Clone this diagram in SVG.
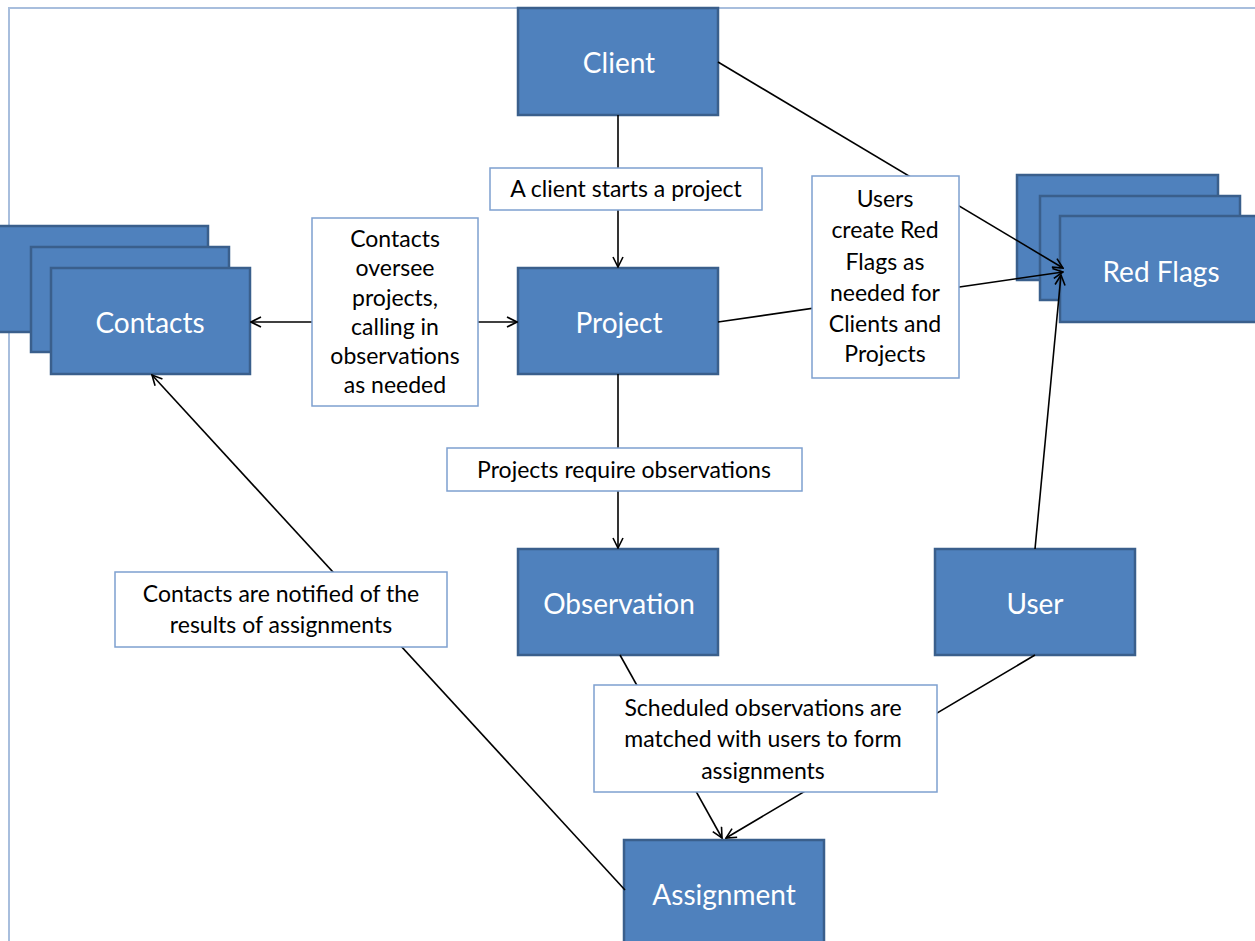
<svg xmlns="http://www.w3.org/2000/svg" width="1255" height="941" viewBox="0 0 1255 941">
<style>
.node{fill:#4F81BD;stroke:#3A5F8C;stroke-width:2.5}
.nt{font-family:Lato,"Open Sans",sans-serif;font-size:28px;fill:#FFFFFF;text-anchor:middle;dominant-baseline:central}
.lbl{fill:#FFFFFF;stroke:#7EA0CF;stroke-width:1.5}
.lt{font-family:Lato,"Open Sans",sans-serif;font-size:23px;fill:#000000;text-anchor:middle;dominant-baseline:central}
.con{stroke:#000000;stroke-width:1.6;fill:none}
.arr{stroke:#000000;stroke-width:1.6;fill:none;marker-end:url(#ah)}
</style>
<defs>
<marker id="ah" viewBox="0 0 12 12" refX="11" refY="6" markerWidth="12" markerHeight="12" markerUnits="userSpaceOnUse" orient="auto">
<path d="M1,1 L11,6 L1,11" fill="none" stroke="#000000" stroke-width="1.6"/>
</marker>
</defs>
<rect width="1255" height="941" fill="#FFFFFF"/>
<path d="M9,941 L9,8 L1255,8" fill="none" stroke="#A8BEDD" stroke-width="2"/>

<g id="node-contacts">
<rect class="node" x="-10" y="226" width="218" height="106"/>
<rect class="node" x="31" y="247" width="198" height="105"/>
<rect class="node" x="51" y="268" width="199" height="106"/>
<text class="nt" x="150" y="322">Contacts</text>
</g>
<g id="node-redflags">
<rect class="node" x="1017" y="175" width="201" height="105"/>
<rect class="node" x="1040" y="196" width="200" height="104"/>
<rect class="node" x="1060" y="216" width="205" height="106"/>
<text class="nt" x="1161" y="271">Red Flags</text>
</g>
<g id="node-client">
<rect class="node" x="518" y="8" width="200" height="107"/>
<text class="nt" x="619" y="62">Client</text>
</g>
<g id="node-project">
<rect class="node" x="518" y="268" width="200" height="106"/>
<text class="nt" x="619" y="322">Project</text>
</g>
<g id="node-observation">
<rect class="node" x="518" y="549" width="200" height="106"/>
<text class="nt" x="619" y="603">Observation</text>
</g>
<g id="node-user">
<rect class="node" x="935" y="549" width="200" height="106"/>
<text class="nt" x="1035" y="603">User</text>
</g>
<g id="node-assignment">
<rect class="node" x="624" y="840" width="200" height="110"/>
<text class="nt" x="724" y="894">Assignment</text>
</g>

<g id="connectors">
<line class="arr" x1="618" y1="115" x2="618" y2="267"/>
<line class="arr" x1="618" y1="374" x2="618" y2="548"/>
<line class="arr" x1="312" y1="322" x2="251" y2="322"/>
<line class="arr" x1="478" y1="322" x2="517" y2="322"/>
<line class="arr" x1="718" y1="62" x2="1063" y2="268"/>
<line class="arr" x1="718" y1="322" x2="1063" y2="272"/>
<line class="arr" x1="1035" y1="549" x2="1061" y2="275"/>
<line class="arr" x1="620" y1="655" x2="722" y2="838"/>
<line class="arr" x1="1035" y1="655" x2="726" y2="838"/>
<line class="arr" x1="625" y1="890" x2="152" y2="375"/>
</g>

<g id="label-client-project">
<rect class="lbl" x="490" y="168" width="272" height="42"/>
<text class="lt" x="626" y="188">A client starts a project</text>
</g>
<g id="label-contacts-project">
<rect class="lbl" x="312" y="218" width="166" height="188"/>
<text class="lt" x="395" y="238">Contacts</text>
<text class="lt" x="395" y="267">oversee</text>
<text class="lt" x="395" y="297">projects,</text>
<text class="lt" x="395" y="326">calling in</text>
<text class="lt" x="395" y="355">observations</text>
<text class="lt" x="395" y="384">as needed</text>
</g>
<g id="label-redflags">
<rect class="lbl" x="812" y="176" width="147" height="202"/>
<text class="lt" x="885" y="198">Users</text>
<text class="lt" x="885" y="229">create Red</text>
<text class="lt" x="885" y="261">Flags as</text>
<text class="lt" x="885" y="292">needed for</text>
<text class="lt" x="885" y="323">Clients and</text>
<text class="lt" x="885" y="353">Projects</text>
</g>
<g id="label-project-observation">
<rect class="lbl" x="447" y="448" width="355" height="43"/>
<text class="lt" x="624" y="469">Projects require observations</text>
</g>
<g id="label-contacts-notified">
<rect class="lbl" x="115" y="572" width="332" height="75"/>
<text class="lt" x="281" y="593">Contacts are notified of the</text>
<text class="lt" x="281" y="624">results of assignments</text>
</g>
<g id="label-scheduled">
<rect class="lbl" x="594" y="685" width="343" height="107"/>
<text class="lt" x="763" y="707">Scheduled observations are</text>
<text class="lt" x="763" y="738">matched with users to form</text>
<text class="lt" x="763" y="770">assignments</text>
</g>
</svg>
